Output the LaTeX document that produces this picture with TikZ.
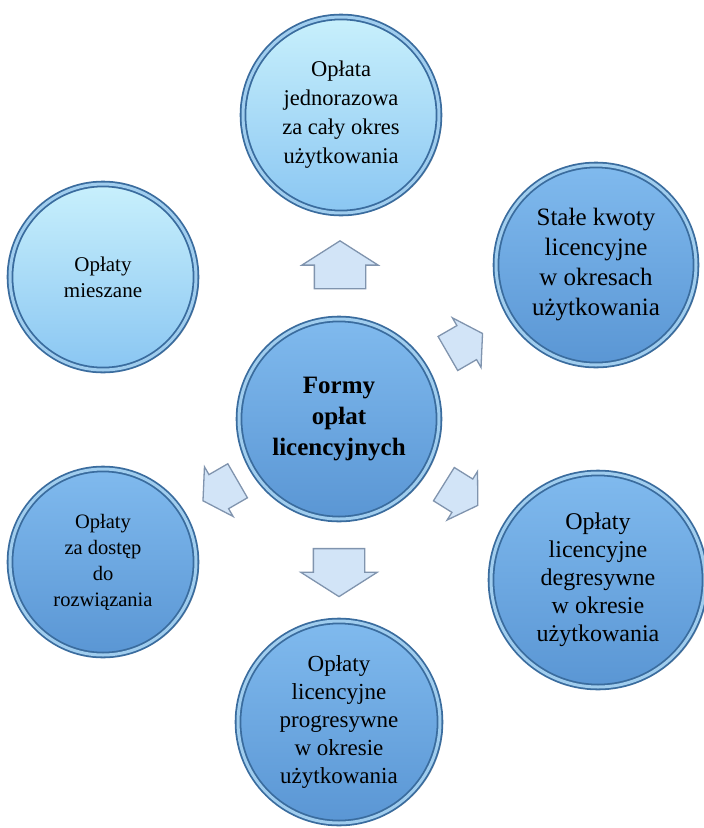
\documentclass[tikz,border=0pt]{standalone}
\usepackage{fontspec}
\setmainfont{Liberation Serif}
\usetikzlibrary{positioning,calc,shapes.arrows,shadows}
\definecolor{paleTop}{RGB}{200,240,252}
\definecolor{paleBot}{RGB}{138,198,242}
\definecolor{deepTop}{RGB}{128,186,238}
\definecolor{deepBot}{RGB}{90,150,212}
\definecolor{ringBlue}{RGB}{58,108,158}
\definecolor{ringHi}{RGB}{160,205,238}
\definecolor{arrFill}{RGB}{210,228,247}
\definecolor{arrEdge}{RGB}{128,148,174}

\begin{document}
\begin{tikzpicture}[
    x=1pt, y=-1pt,
    circ/.style={circle, draw=ringBlue, double=ringHi, double distance=3pt,
        line width=1.8pt, align=center, inner sep=0pt,
        drop shadow={shadow xshift=3pt, shadow yshift=-2pt, opacity=0.4}},
    pale/.style={top color=paleTop, bottom color=paleBot},
    deep/.style={top color=deepTop, bottom color=deepBot},
    arr/.style={single arrow, draw=arrEdge, line width=1.3pt, fill=arrFill,
        minimum height=48pt, inner xsep=0pt, inner ysep=25pt,
        single arrow head extend=12.5pt, single arrow tip angle=115},
    arrsm/.style={arr, minimum height=40pt, inner ysep=19pt,
        single arrow head extend=9pt}
]
    \useasboundingbox (0,0) rectangle (704,828);

    % centre
    \node[circ, deep, minimum size=200pt, font=\bfseries\fontsize{25}{31}\selectfont]
        (C) at (339,419) {Formy\\opłat\\licencyjnych};

    % outer circles
    \node[circ, pale, minimum size=196pt, font=\fontsize{22.5}{29}\selectfont]
        (T) at (341,115) {Opłata\\jednorazowa\\za cały okres\\użytkowania};
    \node[circ, deep, minimum size=200pt, font=\fontsize{25}{30}\selectfont]
        (R1) at (596,265) {Stałe kwoty\\licencyjne\\w okresach\\użytkowania};
    \node[circ, deep, minimum size=214pt, font=\fontsize{24}{28}\selectfont]
        (R2) at (598,580) {Opłaty\\licencyjne\\degresywne\\w okresie\\użytkowania};
    \node[circ, deep, minimum size=202pt, font=\fontsize{23}{28}\selectfont]
        (B) at (339,722) {Opłaty\\licencyjne\\progresywne\\w okresie\\użytkowania};
    \node[circ, deep, minimum size=186pt, font=\fontsize{20.5}{26}\selectfont]
        (L2) at (103,562) {Opłaty\\za dostęp\\do\\rozwiązania};
    \node[circ, pale, minimum size=186pt, font=\fontsize{21}{26}\selectfont]
        (L1) at (103,277) {Opłaty\\mieszane};

    % block arrows
    \node[arr, rotate=90] (aT) at ($(C)!0.5!(T)+(0,6)$) {};
    \node[arrsm, rotate=30] (aR1) at ($(C)!0.47!(R1)$) {};
    \node[arrsm, rotate=-32] (aR2) at ($(C)!0.45!(R2)$) {};
    \node[arr, rotate=-90] (aB) at ($(C)!0.48!(B)$) {};
    \node[arrsm, rotate=-150] (aL2) at ($(C)!0.48!(L2)$) {};
\end{tikzpicture}
\end{document}
